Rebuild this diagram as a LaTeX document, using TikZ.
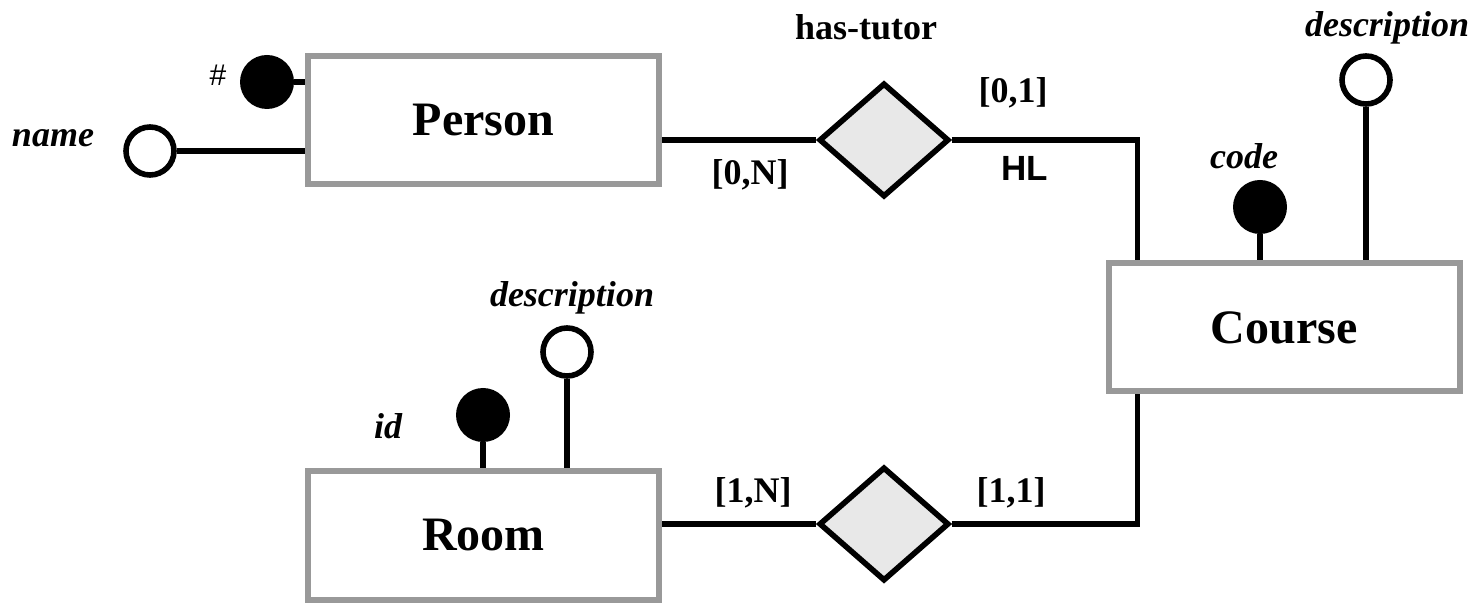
\documentclass[tikz,border=0pt]{standalone}
\usepackage{fontspec}
\setmainfont{Liberation Serif}
\newfontfamily\arialfont{Liberation Sans}
\usepackage{tikz}
\usetikzlibrary{shapes,arrows,positioning,calc}
\definecolor{boxgray}{HTML}{999999}
\definecolor{diagray}{HTML}{E8E8E8}
\tikzstyle{entity} = [rectangle, minimum width=175.5pt, minimum height=64pt, text centered, draw=boxgray, line width=3pt, fill=white, font=\fontsize{24pt}{28pt}\selectfont\bfseries]
\tikzstyle{relation} = [diamond, minimum width=65pt, minimum height=57pt, inner sep=0pt, draw=black, line width=2.8pt, fill=diagray]
\tikzstyle{keyattr} = [circle, minimum size=27pt, inner sep=0pt, fill=black]
\tikzstyle{attr} = [circle, minimum size=24pt, inner sep=0pt, draw=black, line width=2.8pt, fill=white]
\tikzstyle{card} = [inner sep=0pt, font=\fontsize{18pt}{22pt}\selectfont\bfseries]
\tikzstyle{attrname} = [inner sep=0pt, font=\fontsize{18pt}{22pt}\selectfont\bfseries\itshape]
\tikzstyle{link} = [line width=2.8pt]

\begin{document}
\begin{tikzpicture}[x=0.5pt, y=-0.5pt]
        \useasboundingbox (0,0) rectangle (1476,603);
        \node (person) [entity] at (483.5,120.5) {Person};
        \node (course) [entity] at (1284,327.5) {Course};
        \node (room) [entity] at (483.5,535.5) {Room};
        \node (tutor) [relation] at (884,140) {};
        \node (holds) [relation] at (884,524) {};
        \node (pkey) [keyattr] at (267,82) {};
        \node (pname) [attr] at (150,151) {};
        \node (ckey) [keyattr] at (1260,207) {};
        \node (cdesc) [attr] at (1366,80) {};
        \node (rkey) [keyattr] at (483,415) {};
        \node (rdesc) [attr] at (567,352) {};
        \node (tutorname) [card] at (866,27) {has-tutor};
        \node (c01) [card] at (1013,93) {[0,1]};
        \node (c0n) [card] at (750,175) {[0,N]};
        \node (hl) [inner sep=0pt, font=\arialfont\fontsize{17.5pt}{21pt}\selectfont\bfseries] at (1025,168) {HL};
        \node (c1n) [card] at (753,493) {[1,N]};
        \node (c11) [card] at (1011,493) {[1,1]};
        \node (hash) [inner sep=0pt, font=\arialfont\fontsize{15pt}{18pt}\selectfont] at (218,75) {\#};
        \node (namelbl) [attrname] at (53,138) {name};
        \node (codelbl) [attrname] at (1244,156) {code};
        \node (cdesclbl) [attrname] at (1387,28) {description};
        \node (idlbl) [attrname] at (388,426) {id};
        \node (rdesclbl) [attrname] at (572,298) {description};
        \draw [link] (person.east |- tutor) -- (tutor.west);
        \draw [link] (tutor.east) -| ($(course.north west)+(32,0)$);
        \draw [link] (holds.east) -| ($(course.south west)+(32,0)$);
        \draw [link] (room.east |- holds) -- (holds.west);
        \draw [link] (pkey) -- (pkey -| person.west);
        \draw [link] (pname) -- (pname -| person.west);
        \draw [link] (ckey) -- (ckey |- course.north);
        \draw [link] (cdesc) -- (cdesc |- course.north);
        \draw [link] (rkey) -- (rkey |- room.north);
        \draw [link] (rdesc) -- (rdesc |- room.north);
\end{tikzpicture}
\end{document}
